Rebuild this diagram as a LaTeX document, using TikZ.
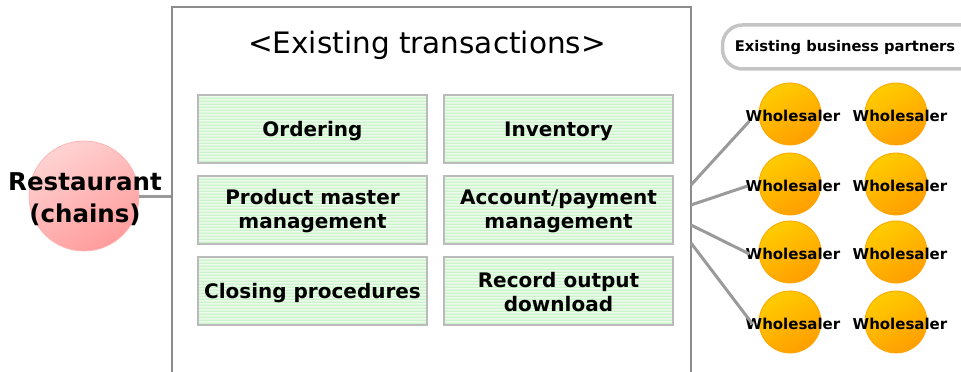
\documentclass[tikz,border=0pt]{standalone}
\usepackage{fontspec}
\setmainfont{DejaVu Sans}
\usetikzlibrary{patterns.meta}
\definecolor{framegray}{HTML}{8C8C8C}
\definecolor{boxgray}{HTML}{BBBBBB}
\definecolor{linegray}{HTML}{9A9A9A}
\definecolor{stripegreen}{HTML}{BDF0BD}
\definecolor{greenpale}{HTML}{EAFBEA}
\definecolor{pinklight}{HTML}{FFD2D2}
\definecolor{pinkdark}{HTML}{FF9C9C}
\definecolor{pinkrim}{HTML}{FFB4B4}
\definecolor{orlight}{HTML}{FFCC00}
\definecolor{ordark}{HTML}{FF9E00}
\definecolor{orrim}{HTML}{FFA500}
\definecolor{pillgray}{HTML}{C4C4C4}
\tikzdeclarepattern{name=hstripes, type=uncolored,
  bounding box={(0,0) and (1pt,3pt)}, tile size={(1pt,3pt)},
  code={\fill (0,0) rectangle (1pt,1.7pt);}}
\begin{document}
\begin{tikzpicture}[x=1pt,y=1pt,
  taskbox/.style={draw=boxgray, line width=1.8pt, minimum width=229pt, minimum height=68pt,
    preaction={fill=greenpale}, pattern={hstripes}, pattern color=stripegreen, inner sep=0pt},
  tasklabel/.style={align=center, font=\fontsize{20}{24}\selectfont\bfseries},
  wball/.style={circle, minimum size=62pt, inner sep=0pt, draw=orrim, line width=0.8pt,
    top color=orlight, bottom color=ordark, shading angle=30},
  wtext/.style={inner sep=1pt, font=\fontsize{15}{18}\selectfont\bfseries},
  link/.style={draw=linegray, line width=3pt}]
\useasboundingbox (0,0) rectangle (961,372);
\clip (0,0) rectangle (961,372);
% frame
\node[draw=framegray, line width=2pt, minimum width=519pt, minimum height=385pt, inner sep=0pt]
  (frame) at (431.5,172.5) {};
\node[font=\fontsize{29.5}{34}\selectfont] (title) at (427,327) {<Existing transactions>};
% task boxes
\node[taskbox] (b11) at (312.5,243) {};
\node[tasklabel] at ([yshift=-2pt]b11.center) {Ordering};
\node[taskbox] (b12) at (558.5,243) {};
\node[tasklabel] at ([yshift=-2pt]b12.center) {Inventory};
\node[taskbox] (b21) at (312.5,162) {};
\node[tasklabel] at ([yshift=-1pt]b21.center) {Product master\\management};
\node[taskbox] (b22) at (558.5,162) {};
\node[tasklabel] at ([yshift=-1pt]b22.center) {Account/payment\\management};
\node[taskbox] (b31) at (312.5,81) {};
\node[tasklabel] at ([yshift=-2pt]b31.center) {Closing procedures};
\node[taskbox] (b32) at (558.5,81) {};
\node[tasklabel] at ([yshift=-1pt]b32.center) {Record output\\download};
% restaurant
\node[circle, minimum size=110pt, inner sep=0pt, draw=pinkrim, line width=0.8pt,
  top color=pinklight, bottom color=pinkdark, shading angle=30] (rest) at (84,176) {};
\draw[link] (rest.east |- 0,175) -- (frame.west |- 0,175);
\node[align=center, font=\fontsize{24.5}{32}\selectfont\bfseries] (resttext) at (85,173) {Restaurant\\(chains)};
% partners label
\node[draw=pillgray, line width=3.5pt, rounded corners=20pt, minimum width=265pt, minimum height=44pt,
  inner sep=0pt] (pill) at (855,325) {};
\node[font=\fontsize{14.7}{17}\selectfont\bfseries] (pilltext) at (845,324) {Existing business partners};
% wholesalers
\foreach \r/\y in {1/258,2/188,3/120,4/50}{
  \node[wball] (c\r a) at (790,\y) {};
  \node[wball] (c\r b) at (896,\y) {};
  \node[wtext] (w\r a) at (793,\y-2) {Wholesaler};
  \node[wtext] (w\r b) at (900,\y-2) {Wholesaler};
}
\coordinate (s1) at (691,187);
\coordinate (s2) at (691,167);
\coordinate (s3) at (691,147);
\coordinate (s4) at (691,129);
\draw[link] (s1) -- ([xshift=5pt,yshift=-5pt]w1a.west);
\draw[link] (s2) -- ([xshift=3pt]w2a.west);
\draw[link] (s3) -- ([xshift=5pt]w3a.west);
\draw[link] (s4) -- ([xshift=8pt]w4a.west);
\end{tikzpicture}
\end{document}
